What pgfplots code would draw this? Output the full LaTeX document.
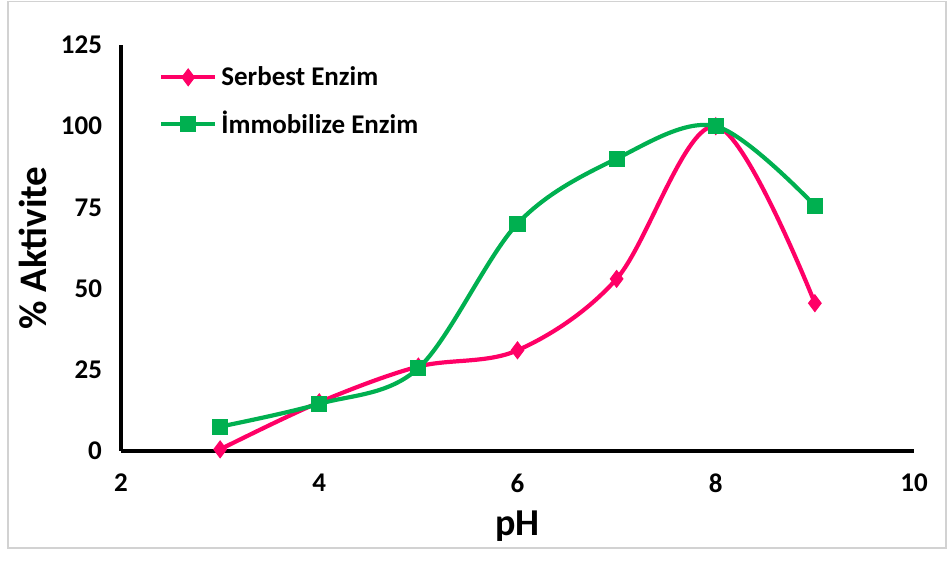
\documentclass[border=0pt]{standalone}
\usepackage{fontspec}
\setmainfont{Carlito}
\usepackage{pgfplots}
\pgfplotsset{compat=1.18}
\definecolor{pinkc}{HTML}{FF0066}
\definecolor{greenc}{HTML}{00B050}
\begin{document}
\begin{tikzpicture}
\path[use as bounding box] (-60.5pt,-55pt) rectangle (413pt,225.5pt);
\draw[gray!35, line width=0.8pt] (-56.5pt,-48.5pt) rectangle (412.5pt,224.8pt);
\begin{axis}[
  at={(0,0)}, anchor=south west,
  scale only axis, width=396.5pt, height=203pt,
  xmin=2, xmax=10, ymin=0, ymax=125,
  xtick={2,4,...,10}, ytick={0,25,...,125},
  axis x line*=bottom, axis y line*=left,
  axis line style={line width=2pt, -},
  major tick length=0pt,
  /pgf/number format/assume math mode=true,
  ticklabel style={font=\fontsize{13.5}{15}\selectfont\bfseries},
  xticklabel style={yshift=-8pt},
  yticklabel style={xshift=-6pt},
  xlabel={\fontsize{19}{20}\selectfont\bfseries pH},
  ylabel={\fontsize{19.5}{20}\selectfont\bfseries \% Aktivite},
  xlabel style={yshift=-2pt},
  ylabel style={yshift=0pt},
  clip=false,
  legend style={draw=none, fill=none, at={(0.045,0.968)}, anchor=north west,
    font=\fontsize{13.5}{15}\selectfont\bfseries, row sep=7.5pt,
    cells={anchor=west}, inner xsep=1pt},
  legend image code/.code={
    \draw[#1, mark=none] (0cm,0cm) -- (0.95cm,0cm);
    \draw[#1, only marks] plot coordinates {(0.475cm,0cm)};
  },
]
\addplot[pinkc, line width=2.1pt, smooth, tension=0.55, mark=diamond*, mark size=4.2pt, mark options={solid, fill=pinkc, line width=0.5pt}]
coordinates {(3,0.5) (4,15) (5,26) (6,31) (7,53) (8,100) (9,45.5)};
\addlegendentry{Serbest Enzim}
\addplot[greenc, line width=2.1pt, smooth, tension=0.55, mark=square*, mark size=3.8pt, mark options={solid, fill=greenc, line width=0.5pt}]
coordinates {(3,7.5) (4,14.5) (5,25.5) (6,70) (7,90) (8,100) (9,75.5)};
\addlegendentry{İmmobilize Enzim}
\end{axis}
\end{tikzpicture}
\end{document}
